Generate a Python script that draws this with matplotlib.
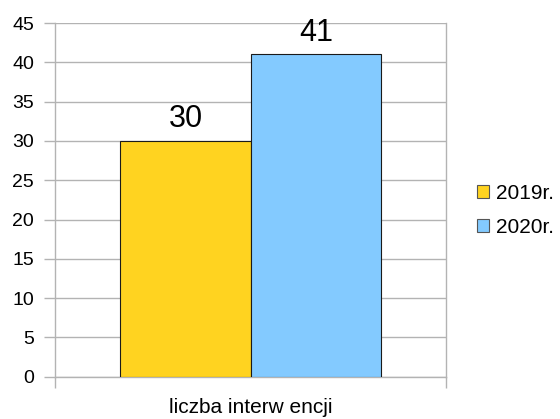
import matplotlib
matplotlib.use("Agg")
import matplotlib.pyplot as plt
from matplotlib.patches import Patch

plt.rcParams['font.family'] = ['Liberation Sans', 'DejaVu Sans']

# Data.
category = "liczba interw encji"
series = ["2019r.", "2020r."]
values = [30, 41]
colors = ["#ffd320", "#83caff"]

grid_color = "#b3b3b3"

fig = plt.figure(figsize=(5.6, 4.19), dpi=100)
ax = fig.add_axes([0.0982, 0.1010, 0.6990, 0.8440])

# Two bars side by side around the single category.
offsets = [-0.5, 0.5]
for off, val, col in zip(offsets, values, colors):
    ax.bar(off, val, width=1.0, color=col, edgecolor="#1a1a1a",
           linewidth=0.8, zorder=3)
    ax.annotate(str(val), (off, val), xytext=(0, 10), textcoords="offset points",
                ha="center", va="baseline", fontsize=22, color="black", zorder=4)

ax.set_xlim(-1.5, 1.5)
ax.set_ylim(0, 45)
ax.set_yticks(range(0, 46, 5))
ax.yaxis.grid(True, color=grid_color, linewidth=1.0, zorder=0)
ax.set_axisbelow(True)

# Category boundary ticks on the x axis, label in the middle.
ax.set_xticks([-1.5, 1.5])
ax.set_xticklabels(["", ""])
ax.tick_params(axis="x", length=8, color=grid_color, width=1.0)
ax.text(0, -0.06, category, transform=ax.get_xaxis_transform(),
        ha="center", va="top", fontsize=15)

ax.tick_params(axis="y", length=8, color=grid_color, width=1.0,
               labelsize=14, pad=7)

for side in ["left", "right", "bottom"]:
    ax.spines[side].set_color(grid_color)
    ax.spines[side].set_linewidth(1.0)
ax.spines["top"].set_visible(False)

handles = [Patch(facecolor=c, edgecolor="#555555", linewidth=0.8) for c in colors]
fig.legend(handles, series, loc="center left", bbox_to_anchor=(0.852, 0.4976),
           frameon=False, fontsize=15, handlelength=0.58, handleheight=0.58,
           handletextpad=0.34, labelspacing=0.73, borderpad=0, borderaxespad=0)

fig.savefig("out.png", dpi=100)
